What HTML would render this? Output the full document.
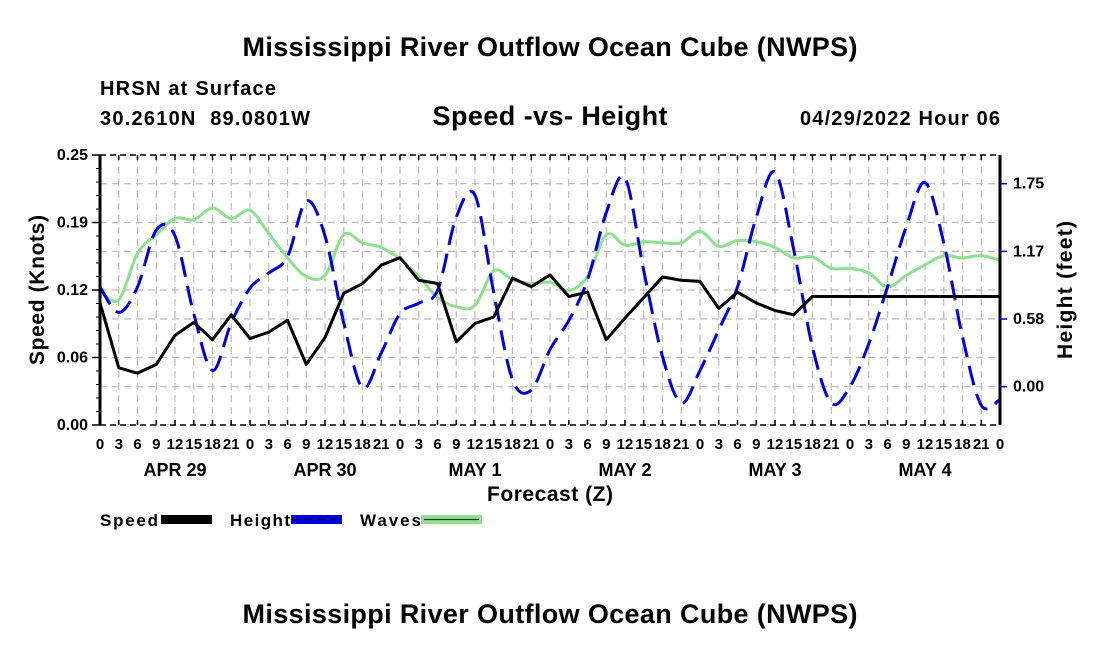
<!DOCTYPE html>
<html><head><meta charset="utf-8"><style>
body{margin:0;background:#fff;}
svg{display:block;font-family:"Liberation Sans",Arial,sans-serif;font-weight:bold;}
</style></head><body>
<svg id="chart" width="1100" height="650" viewBox="0 0 1100 650">
<text x="550" y="56" font-size="27" text-anchor="middle" textLength="615">Mississippi River Outflow Ocean Cube (NWPS)</text>
<text x="100" y="95" font-size="20" textLength="176">HRSN at Surface</text>
<text x="100" y="125" font-size="20" textLength="210" xml:space="preserve">30.2610N  89.0801W</text>
<text x="550" y="125" font-size="27" text-anchor="middle" textLength="235">Speed -vs- Height</text>
<text x="1000" y="125" font-size="20" text-anchor="end" textLength="200">04/29/2022 Hour 06</text>
<text x="550" y="623" font-size="27" text-anchor="middle" textLength="615">Mississippi River Outflow Ocean Cube (NWPS)</text>
<text x="550" y="501" font-size="21" text-anchor="middle" textLength="126">Forecast (Z)</text>
<text transform="translate(44,290) rotate(-90)" font-size="21" text-anchor="middle" textLength="150">Speed (Knots)</text>
<text transform="translate(1072,290) rotate(-90)" font-size="21" text-anchor="middle" textLength="138">Height (feet)</text>
<g id="grid"></g>
<g id="series"></g>
<g id="axes"></g>
<g>
<text x="100" y="526" font-size="17" textLength="58">Speed</text>
<rect x="161" y="515" width="51" height="9" fill="#000"/>
<text x="230" y="526" font-size="17" textLength="60">Height</text>
<rect x="291" y="515" width="51" height="9" fill="#0000dd"/>
<line x1="291" y1="519.5" x2="342" y2="519.5" stroke="#000066" stroke-width="1.5" stroke-dasharray="8,5"/>
<text x="360" y="526" font-size="17" textLength="61">Waves</text>
<rect x="421" y="515" width="61" height="9" fill="#90e090"/>
<line x1="424" y1="519.5" x2="479" y2="519.5" stroke="#333" stroke-width="1.2"/>
</g>
</svg>
<script>
const hours = [0,3,6,9,12,15,18,21,24,27,30,33,36,39,42,45,48,51,54,57,60,63,66,69,72,75,78,81,84,87,90,93,96,99,102,105,108,111,114,117,120,123,126,129,132,135,138,141,144];
const speedKnots = [0.113,0.053,0.048,0.056,0.083,0.095,0.079,0.102,0.080,0.086,0.097,0.056,0.081,0.122,0.131,0.148,0.155,0.134,0.131,0.077,0.094,0.100,0.136,0.128,0.139,0.119,0.123,0.079,0.099,0.118,0.137,0.134,0.133,0.108,0.123,0.113,0.106,0.102,0.119,0.119,0.119,0.119,0.119,0.119,0.119,0.119,0.119,0.119,0.119];
const heightFeet = [0.86,0.64,0.86,1.35,1.30,0.63,0.14,0.55,0.85,0.98,1.12,1.60,1.30,0.55,-0.01,0.29,0.63,0.72,0.83,1.46,1.65,0.81,0.06,-0.03,0.32,0.57,0.92,1.50,1.80,1.00,0.26,-0.14,0.14,0.49,0.86,1.46,1.85,1.18,0.34,-0.14,0.00,0.37,0.86,1.38,1.76,1.24,0.43,-0.16,-0.11];
const wavesFeet = [0.82,0.75,1.15,1.31,1.45,1.44,1.54,1.45,1.52,1.32,1.11,0.95,0.96,1.31,1.24,1.20,1.10,0.95,0.77,0.69,0.70,1.00,0.92,0.89,0.90,0.83,0.95,1.31,1.22,1.25,1.24,1.24,1.34,1.21,1.26,1.25,1.20,1.11,1.12,1.02,1.02,0.98,0.86,0.96,1.05,1.13,1.11,1.13,1.09];
const leftTicks = [0,0.0625,0.125,0.1875,0.25];
const leftTickLabels = ["0.00","0.06","0.12","0.19","0.25"];
const rightTicks = [0,0.5833,1.1667,1.75];
const rightTickLabels = ["0.00","0.58","1.17","1.75"];
const dayLabels = ["APR 29","APR 30","MAY 1","MAY 2","MAY 3","MAY 4"];

const NS="http://www.w3.org/2000/svg";
const X0=100,X1=1000,Y0=425,Y1=155;
const xS=h=>X0+h*(X1-X0)/144;
const yL=v=>Y0-v*(Y0-Y1)/0.25;
const yR=v=>386.7-v*116;
function mk(tag,attrs,parent){const e=document.createElementNS(NS,tag);for(const k in attrs)e.setAttribute(k,attrs[k]);parent.appendChild(e);return e;}
const gridG=document.getElementById('grid'),axesG=document.getElementById('axes'),seriesG=document.getElementById('series');

for(let h=3;h<144;h+=3){
  const l=mk('line',{x1:xS(h),x2:xS(h),y1:Y1,y2:Y0,stroke:'#bbb','stroke-width':1.2,'stroke-dasharray':'7,5'},gridG);
  
  
}
leftTicks.slice(1,-1).forEach(v=>{
  const l=mk('line',{x1:X0,x2:X1,y1:yL(v),y2:yL(v),stroke:'#bbb','stroke-width':1.2,'stroke-dasharray':'7,5'},gridG);
  
  
});
rightTicks.forEach(v=>{
  const l=mk('line',{x1:X0,x2:X1,y1:yR(v),y2:yR(v),stroke:'#bbb','stroke-width':1.2,'stroke-dasharray':'7,5'},gridG);
  
  
});

function smoothPath(xs,ys){
  let d=`M${xs[0]},${ys[0]}`;
  for(let i=0;i<xs.length-1;i++){
    const x0=xs[Math.max(0,i-1)],y0=ys[Math.max(0,i-1)],x1=xs[i],y1=ys[i],x2=xs[i+1],y2=ys[i+1],x3=xs[Math.min(xs.length-1,i+2)],y3=ys[Math.min(xs.length-1,i+2)];
    d+=` C${x1+(x2-x0)/6},${y1+(y2-y0)/6} ${x2-(x3-x1)/6},${y2-(y3-y1)/6} ${x2},${y2}`;
  }
  return d;
}
const xsArr=hours.map(xS);
const wavesPath=mk('path',{d:smoothPath(xsArr,wavesFeet.map(yR)),fill:'none',stroke:'#8ee08e','stroke-width':3},seriesG);


const heightPath=mk('path',{d:smoothPath(xsArr,heightFeet.map(yR)),fill:'none',stroke:'#0000dd','stroke-width':3,'stroke-dasharray':'20,9'},seriesG);


const speedLine=mk('polyline',{points:hours.map((h,i)=>xS(h)+','+yL(speedKnots[i])).join(' '),fill:'none',stroke:'#000','stroke-width':3,'stroke-linejoin':'round'},seriesG);



const topBorder=mk('line',{x1:X0,x2:X1,y1:Y1,y2:Y1,stroke:'#000','stroke-width':1.5,'stroke-dasharray':'6,4'},axesG);


const botAxis=mk('line',{x1:X0,x2:X1,y1:Y0,y2:Y0,stroke:'#000','stroke-width':1.5,'stroke-dasharray':'6,4'},axesG);


const leftAxis=mk('line',{x1:X0,x2:X0,y1:Y1,y2:Y0,stroke:'#000','stroke-width':3},axesG);


const rightAxis=mk('line',{x1:X1,x2:X1,y1:Y1,y2:Y0,stroke:'#000','stroke-width':3},axesG);



for(let h=0;h<=144;h+=3){
  const x=xS(h);
  mk('line',{x1:x,x2:x,y1:Y0-5,y2:Y0,stroke:'#000','stroke-width':1.5},axesG);
  mk('line',{x1:x,x2:x,y1:Y1,y2:Y1+5,stroke:'#000','stroke-width':1.5},axesG);
  const t=mk('text',{x:x,y:449,'font-size':15,'text-anchor':'middle'},axesG);
  t.textContent=String(h%24);
  
  
}
dayLabels.forEach((d,i)=>{
  const t=mk('text',{x:xS(i*24+12),y:476,'font-size':18,'text-anchor':'middle'},axesG);
  t.textContent=d;
  
  
});
for(let v=0;v<=0.25001;v+=0.25/20){
  mk('line',{x1:X0-4,x2:X0,y1:yL(v),y2:yL(v),stroke:'#000','stroke-width':1},axesG);
}
leftTicks.forEach((v,i)=>{
  mk('line',{x1:X0-8,x2:X0,y1:yL(v),y2:yL(v),stroke:'#000','stroke-width':1.5},axesG);
  const t=mk('text',{x:88,y:yL(v)+5,'font-size':16,'text-anchor':'end'},axesG);
  t.textContent=leftTickLabels[i];
  
  
});
rightTicks.forEach((v,i)=>{
  mk('line',{x1:X1,x2:X1+7,y1:yR(v),y2:yR(v),stroke:'#0000dd','stroke-width':1.5},axesG);
  const t=mk('text',{x:1013,y:yR(v)+5,'font-size':16},axesG);
  t.textContent=rightTickLabels[i];
  
  
});
</script>
</body></html>
